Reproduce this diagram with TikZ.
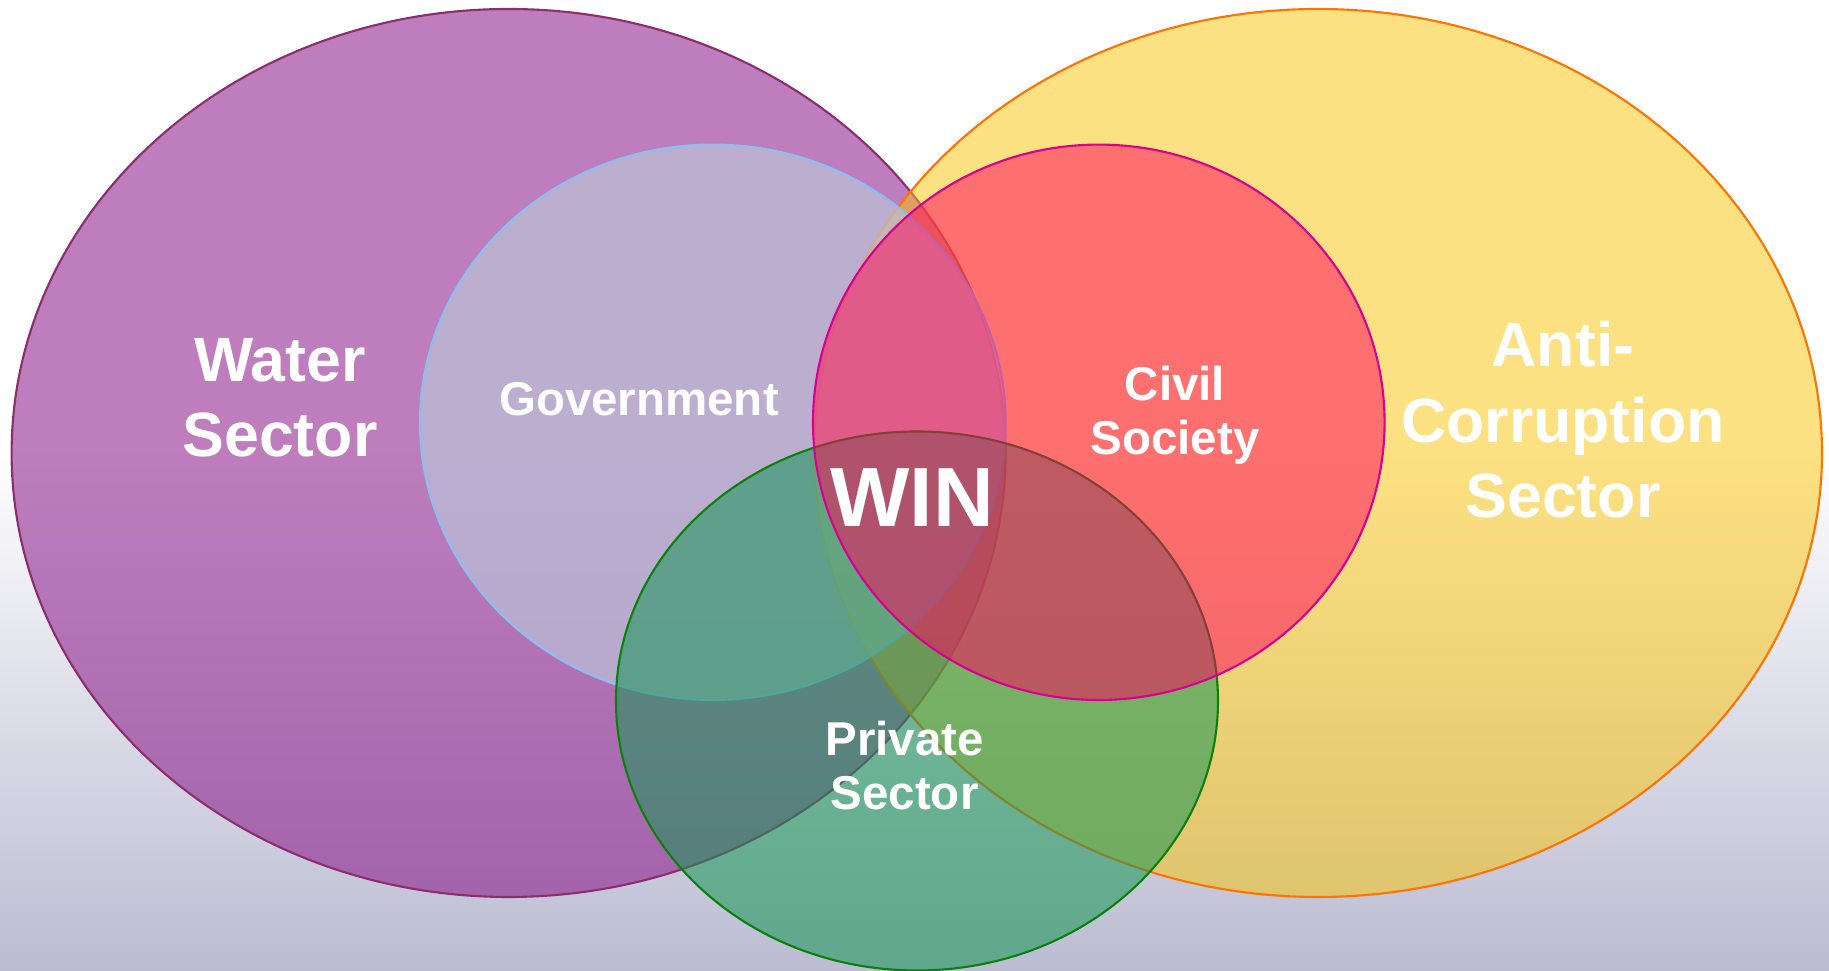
\documentclass[tikz,border=0pt]{standalone}
\usepackage{fontspec}
\setmainfont{Liberation Sans}
\definecolor{bgbot}{RGB}{187,188,210}
\definecolor{waterfill}{RGB}{137,20,135}
\definecolor{waterline}{RGB}{140,45,110}
\definecolor{antifill}{RGB}{251,197,7}
\definecolor{antiline}{RGB}{255,115,0}
\definecolor{govfill}{RGB}{186,195,216}
\definecolor{govline}{RGB}{140,190,240}
\definecolor{privfill}{RGB}{22,150,85}
\definecolor{privline}{RGB}{10,130,10}
\definecolor{civilfill}{RGB}{255,0,93}
\definecolor{civilline}{RGB}{215,0,145}
\pgfdeclareverticalshading{bgshade}{100bp}{color(0bp)=(bgbot); color(25bp)=(bgbot); color(52bp)=(white); color(100bp)=(white)}
\tikzset{
  sector/.style={line width=0.6pt},
  biglabel/.style={text=white, font=\bfseries\fontsize{17.8}{21.5}\selectfont, align=center, anchor=base, inner sep=0pt},
  smalllabel/.style={text=white, font=\bfseries\fontsize{13.5}{15.5}\selectfont, align=center, anchor=base, inner sep=0pt}
}
\begin{document}
\begin{tikzpicture}[x=0.01cm, y=-0.01cm]
      \useasboundingbox (0,0) rectangle (1829,971);
      \shade[shading=bgshade] (0,0) rectangle (1829,971);
      \begin{scope}[sector]
        \filldraw[fill=waterfill, fill opacity=0.55, draw=waterline] (508.6,453) ellipse [x radius=497, y radius=444];
        \filldraw[fill=antifill, fill opacity=0.5, draw=antiline] (1318,453) ellipse [x radius=504, y radius=444];
        \filldraw[fill=govfill, fill opacity=0.7, draw=govline] (712.8,422.3) ellipse [x radius=292.8, y radius=277.7];
        \filldraw[fill=privfill, fill opacity=0.55, draw=privline] (917,701) ellipse [x radius=301, y radius=269.5];
        \filldraw[fill=civilfill, fill opacity=0.5, draw=civilline] (1098.8,422.3) ellipse [x radius=285.8, y radius=277.7];
      \end{scope}
      \node[biglabel] (water) at (280,457) {Water\\Sector};
      \node[biglabel] (anti) at (1563,518) {Anti-\\Corruption\\Sector};
      \node[smalllabel] (gov) at (639,416) {Government};
      \node[smalllabel] (civil) at (1175,455) {Civil\\Society};
      \node[smalllabel] (priv) at (904.6,810) {Private\\Sector};
      \node[text=white, font=\bfseries\fontsize{23.9}{28}\selectfont, anchor=base, inner sep=0pt] (win) at (912,527) {WIN};
    \end{tikzpicture}
\end{document}
